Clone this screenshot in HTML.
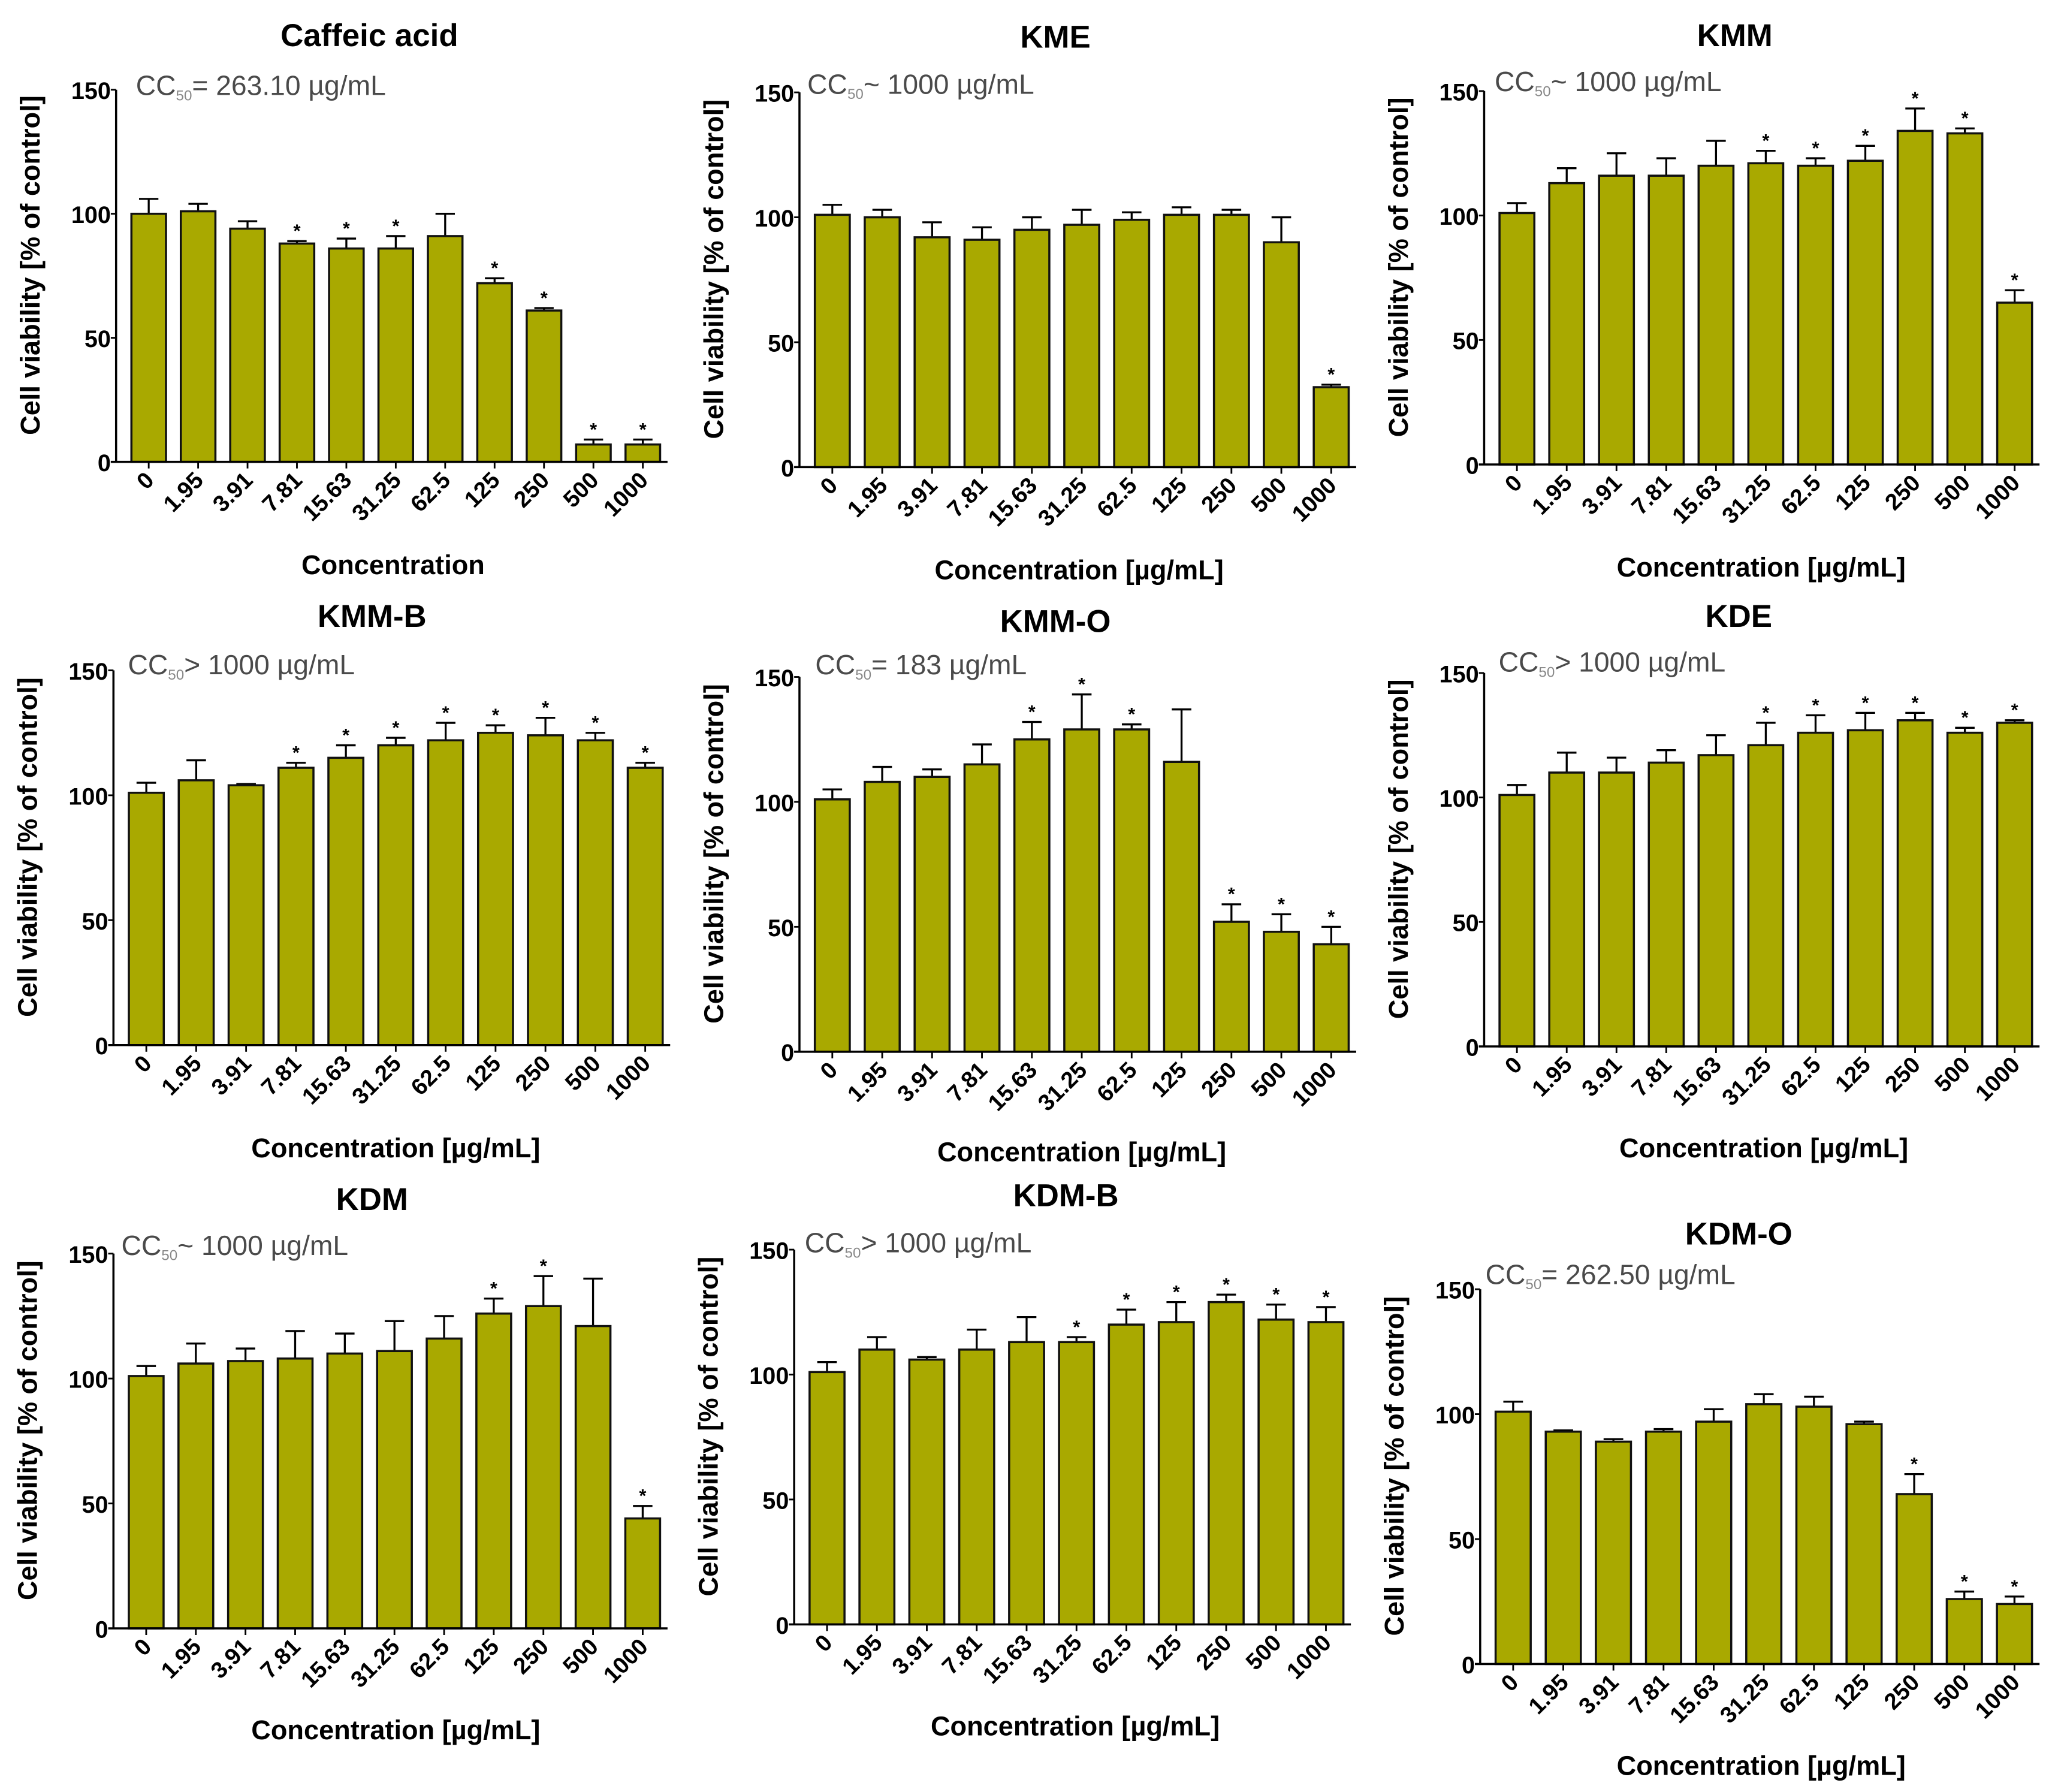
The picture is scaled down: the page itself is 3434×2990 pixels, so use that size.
<!DOCTYPE html>
<html><head><meta charset="utf-8"><style>
html,body{margin:0;padding:0;background:#fff}
svg{display:block}
text{font-family:"Liberation Sans",Arial,sans-serif}
</style></head><body>
<svg id="fig" width="3434" height="2990" viewBox="0 0 1560 1358" preserveAspectRatio="none" xmlns="http://www.w3.org/2000/svg"></svg>
<script>
const categories = ["0","1.95","3.91","7.81","15.63","31.25","62.5","125","250","500","1000"];
const yTicks = [0,50,100,150];
const titles = ["Caffeic acid","KME","KMM","KMM-B","KMM-O","KDE","KDM","KDM-B","KDM-O"];
const ccText = [["=","263.10"],["~","1000"],["~","1000"],[">","1000"],["=","183"],[">","1000"],["~","1000"],[">","1000"],["=","262.50"]];
const xTitles = ["Concentration","Concentration [µg/mL]","Concentration [µg/mL]","Concentration [µg/mL]","Concentration [µg/mL]","Concentration [µg/mL]","Concentration [µg/mL]","Concentration [µg/mL]","Concentration [µg/mL]"];
const caffeicMeans = [100,101,94,88,86,86,91,72,61,7,7];
const caffeicErr = [6,3,3,1,4,5,9,2,1,2,2];
const caffeicSig = [0,0,0,1,1,1,0,1,1,1,1];
const kmeMeans = [101,100,92,91,95,97,99,101,101,90,32];
const kmeErr = [4,3,6,5,5,6,3,3,2,10,1];
const kmeSig = [0,0,0,0,0,0,0,0,0,0,1];
const kmmMeans = [101,113,116,116,120,121,120,122,134,133,65];
const kmmErr = [4,6,9,7,10,5,3,6,9,2,5];
const kmmSig = [0,0,0,0,0,1,1,1,1,1,1];
const kmmbMeans = [101,106,104,111,115,120,122,125,124,122,111];
const kmmbErr = [4,8,0.5,2,5,3,7,3,7,3,2];
const kmmbSig = [0,0,0,1,1,1,1,1,1,1,1];
const kmmoMeans = [101,108,110,115,125,129,129,116,52,48,43];
const kmmoErr = [4,6,3,8,7,14,2,21,7,7,7];
const kmmoSig = [0,0,0,0,1,1,1,0,1,1,1];
const kdeMeans = [101,110,110,114,117,121,126,127,131,126,130];
const kdeErr = [4,8,6,5,8,9,7,7,3,2,1];
const kdeSig = [0,0,0,0,0,1,1,1,1,1,1];
const kdmMeans = [101,106,107,108,110,111,116,126,129,121,44];
const kdmErr = [4,8,5,11,8,12,9,6,12,19,5];
const kdmSig = [0,0,0,0,0,0,0,1,1,0,1];
const kdmbMeans = [101,110,106,110,113,113,120,121,129,122,121];
const kdmbErr = [4,5,1,8,10,2,6,8,3,6,6];
const kdmbSig = [0,0,0,0,0,1,1,1,1,1,1];
const kdmoMeans = [101,93,89,93,97,104,103,96,68,26,24];
const kdmoErr = [4,0.5,1,1,5,4,4,1,8,3,3];
const kdmoSig = [0,0,0,0,0,0,0,0,1,1,1];

const allMeans=[caffeicMeans,kmeMeans,kmmMeans,kmmbMeans,kmmoMeans,kdeMeans,kdmMeans,kdmbMeans,kdmoMeans];
const allErr=[caffeicErr,kmeErr,kmmErr,kmmbErr,kmmoErr,kdeErr,kdmErr,kdmbErr,kdmoErr];
const allSig=[caffeicSig,kmeSig,kmmSig,kmmbSig,kmmoSig,kdeSig,kdmSig,kdmbSig,kdmoSig];
const layout=[
[88,68,350,506,280,27,103,65,298,428],
[606,70,354,1028,800,28,612,64,818,432],
[1125,69,352,1546,1315,27,1133,62,1335,430],
[86,508,792,508,282,467,97,504,300,870],
[606,513,797,1028,800,471,618,504,820,873],
[1125,510,793,1546,1318,467,1136,502,1337,870],
[86,950,1234,506,282,909,92,944,300,1311],
[602,947,1231,1024,808,906,610,942,815,1308],
[1122,977,1261,1546,1318,935,1126,966,1335,1338]];
const NS="http://www.w3.org/2000/svg";
const svg=document.getElementById('fig');
function mk(tag,attrs,parent){const e=document.createElementNS(NS,tag);for(const k in attrs)e.setAttribute(k,attrs[k]);(parent||svg).appendChild(e);return e;}
for(let p=0;p<9;p++){
  const [ax,y150,y0,aend,tx,ty,cx,cy,lx,ly]=layout[p];
  const g=mk('g',{});
  
  
  const yS=v=>y0-(v/150)*(y0-y150);
  const band=(aend-ax-6)/11;
  const xC=i=>ax+6+(i+0.5)*band;
  const bw=band*0.7;
  const t=mk('text',{x:tx,y:ty+8,'text-anchor':'middle','font-size':24,'font-weight':'bold',fill:'#000'},g);t.textContent=titles[p];
  
  const cc=mk('text',{x:cx,y:cy+7,'font-size':21,fill:'#4a4a4a'},g);
  
  const s1=mk('tspan',{},cc);s1.textContent='CC';
  const s2=mk('tspan',{'font-size':11,dy:4,fill:'#888'},cc);s2.textContent='50';
  const s3=mk('tspan',{dy:-4},cc);s3.textContent=ccText[p][0]+' '+ccText[p][1]+' µg/mL';
  for(let i=0;i<11;i++){
    const m=allMeans[p][i],e=allErr[p][i];
    const top=yS(m+e);
    const el=mk('line',{x1:xC(i),x2:xC(i),y1:yS(m),y2:top,stroke:'#000','stroke-width':1.5},g);
    
    const cap=mk('line',{x1:xC(i)-bw*0.28,x2:xC(i)+bw*0.28,y1:top,y2:top,stroke:'#000','stroke-width':1.5},g);
    
    const r=mk('rect',{x:xC(i)-bw/2,y:yS(m),width:bw,height:y0-yS(m),fill:'#a9a900',stroke:'#111','stroke-width':1.6},g);
    
    if(allSig[p][i]){const st=mk('text',{x:xC(i),y:top-3,'text-anchor':'middle','font-size':14,'font-weight':'bold',fill:'#000'},g);st.textContent='*';
      }
    const tk=mk('line',{x1:xC(i),x2:xC(i),y1:y0,y2:y0+5,stroke:'#000','stroke-width':1.3},g);
    
    const tl=mk('text',{x:xC(i)+5,y:y0+15,'text-anchor':'end','font-size':17.5,'font-weight':'bold',fill:'#000',transform:`rotate(-45 ${xC(i)+5} ${y0+15})`},g);tl.textContent=categories[i];
    
  }
  const ya=mk('line',{x1:ax,x2:ax,y1:y150,y2:y0,stroke:'#000','stroke-width':1.6},g);
  
  const xa=mk('line',{x1:ax-4,x2:aend,y1:y0,y2:y0,stroke:'#000','stroke-width':1.6},g);
  
  for(const v of yTicks){
    const tk=mk('line',{x1:ax-4,x2:ax,y1:yS(v),y2:yS(v),stroke:'#000','stroke-width':1.3},g);
    
    const tl=mk('text',{x:ax-4,y:yS(v)+7,'text-anchor':'end','font-size':18,'font-weight':'bold',fill:'#000'},g);tl.textContent=v;
    
  }
  const ycx=ax-58,ycy=(y150+y0)/2-8;
  const yl=mk('text',{x:ycx,y:ycy,'text-anchor':'middle','font-size':20.5,'font-weight':'bold',fill:'#000',transform:`rotate(-90 ${ycx} ${ycy})`},g);
  yl.textContent='Cell viability [% of control]';
  
  const xl=mk('text',{x:lx,y:ly+7,'text-anchor':'middle','font-size':20.5,'font-weight':'bold',fill:'#000'},g);xl.textContent=xTitles[p];
  
}
</script>
</body></html>
